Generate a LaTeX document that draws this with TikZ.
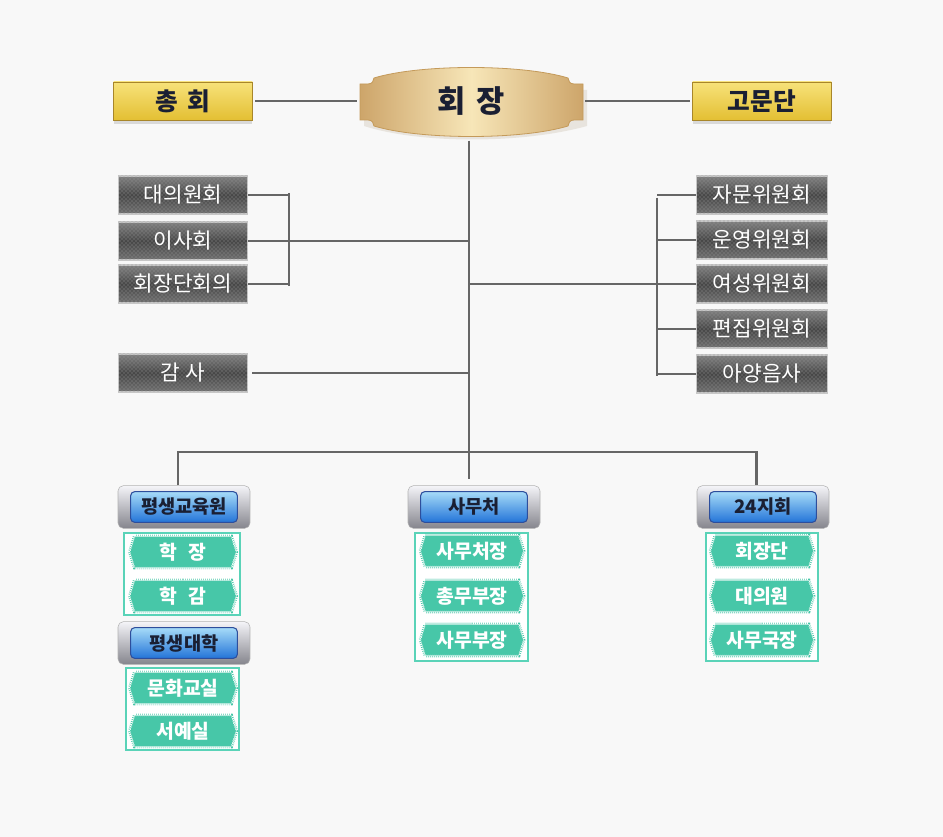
\documentclass[tikz,border=0pt]{standalone}
\usepackage{fontspec}
\setmainfont{Noto Sans CJK KR}
\usetikzlibrary{positioning, shapes.symbols, shadows, patterns}

\definecolor{pagebg}{HTML}{F8F8F8}
\definecolor{linegray}{HTML}{666666}
\definecolor{goldtop}{HTML}{F7E27A}
\definecolor{goldbot}{HTML}{E3BF33}
\definecolor{goldedge}{HTML}{A8862A}
\definecolor{tandark}{HTML}{CDA56A}
\definecolor{tanlight}{HTML}{F7E6B8}
\definecolor{tanedge}{HTML}{C49A5A}
\definecolor{steeltop}{HTML}{808080}
\definecolor{steelmid}{HTML}{474747}
\definecolor{steelbot}{HTML}{707070}
\definecolor{steeldot}{HTML}{9A9A9A}
\definecolor{silvertop}{HTML}{F4F4F8}
\definecolor{silverbot}{HTML}{85858D}
\definecolor{btntop}{HTML}{A6DBF8}
\definecolor{btnbot}{HTML}{2374D8}
\definecolor{btnedge}{HTML}{2D4E9C}
\definecolor{inkdark}{HTML}{1A1F33}
\definecolor{tealfill}{HTML}{47C7A8}
\definecolor{tealframe}{HTML}{5AD3B8}

\tikzset{
  trunk/.style={draw=linegray, line width=2.2pt},
  twig/.style={draw=linegray, line width=1.1pt},
  goldbox/.style={rectangle, minimum width=104pt, minimum height=28.5pt,
    top color=goldtop, bottom color=goldbot, draw=goldedge, line width=0.6pt,
    drop shadow={shadow xshift=0pt, shadow yshift=-3pt, opacity=0.25},
    text=inkdark, font=\fontsize{18.5}{20}\selectfont\bfseries},
  chairtext/.style={rectangle, minimum width=167pt, minimum height=47pt,
    text=inkdark, font=\fontsize{23}{25}\selectfont\bfseries},
  steelbox/.style={rectangle, minimum width=97pt, minimum height=28.5pt,
    top color=steeltop, bottom color=steelbot, middle color=steelmid,
    draw=white!78!black, line width=1.2pt,
    postaction={pattern=crosshatch dots, pattern color=steeldot},
    text=white, font=\fontsize{16}{18}\selectfont},
  headbox/.style={rectangle, rounded corners=4pt, minimum width=99pt, minimum height=32pt,
    top color=silvertop, bottom color=silverbot, draw=white!70!black, line width=0.4pt},
  headbtn/.style={rectangle, rounded corners=3pt, minimum width=80pt, minimum height=23pt,
    inner sep=1pt, top color=btntop, bottom color=btnbot, draw=btnedge, line width=0.8pt,
    text=inkdark, font=\fontsize{14}{16}\selectfont\bfseries},
  groupframe/.style={rectangle, draw=tealframe, line width=1.5pt, fill=white},
  tagitem/.style={signal, signal to=east and west, signal pointer angle=145,
    minimum width=77pt, minimum height=23pt, inner sep=1pt, fill=tealfill,
    preaction={draw=tealfill, line width=3pt},
    draw=white, densely dotted, line width=0.5pt,
    text=white, font=\fontsize{14.5}{16}\selectfont\bfseries},
}

\begin{document}
\begin{tikzpicture}[x=0.75pt, y=-0.75pt]
  \fill[pagebg] (0,0) rectangle (943,837);
  \useasboundingbox (0,0) rectangle (943,837);

  % top row
  \node[goldbox] (zonghoe) at (183,101) {총\hspace{0.35em}회};
  \node[goldbox] (gomun) at (762,101) {고문단};
  \fill[tandark!70!black, opacity=0.15] (364,90) -- (587,90) -- (587,126)
    .. controls (522,144) and (420,144) .. (364,126) -- cycle;
  \draw[tanedge, line width=0.6pt, left color=tandark, right color=tandark, middle color=tanlight]
    (360,84) -- (368,84) .. controls (372,84) and (374,81) .. (374,78)
    .. controls (420,64) and (522,64) .. (568,78)
    .. controls (568,81) and (570,84) .. (574,84) -- (583,84)
    -- (583,120) -- (574,120) .. controls (570,120) and (568,123) .. (568,126)
    .. controls (522,140) and (420,140) .. (374,126)
    .. controls (374,123) and (372,120) .. (368,120) -- (360,120) -- cycle;
  \node[chairtext] (hoejang) at (471,101) {회\hspace{0.35em}장};

  % committees
  \node[steelbox] (daeui) at (183,195) {대의원회};
  \node[steelbox] (isa) at (183,241) {이사회};
  \node[steelbox] (hoejangdan) at (183,284) {회장단회의};
  \node[steelbox] (gamsa) at (183,373) {감 사};
  \node[steelbox, minimum width=98pt] (jamun) at (762,195) {자문위원회};
  \node[steelbox, minimum width=98pt] (unyeong) at (762,240) {운영위원회};
  \node[steelbox, minimum width=98pt] (yeoseong) at (762,284) {여성위원회};
  \node[steelbox, minimum width=98pt] (pyeonjip) at (762,329) {편집위원회};
  \node[steelbox, minimum width=98pt] (ayang) at (762,374) {아양음사};

  % lower units
  \node[headbox] (edu) at (184,507) {};
  \node[headbtn] (edubtn) at (edu) {평생교육원};
  \node[groupframe, minimum width=87pt, minimum height=61.5pt] (eduframe) at (182,574) {};
  \node[tagitem, minimum width=79.5pt] (edu1) at (183,552) {학\hspace{0.6em}장};
  \node[tagitem, minimum width=79.5pt] (edu2) at (183,596) {학\hspace{0.6em}감};

  \node[headbox] (univ) at (184,643) {};
  \node[headbtn] (univbtn) at (univ) {평생대학};
  \node[groupframe, minimum width=85pt, minimum height=61.5pt] (univframe) at (182.5,709) {};
  \node[tagitem, minimum width=79.5pt] (univ1) at (183,688) {문화교실};
  \node[tagitem, minimum width=79.5pt] (univ2) at (183,731) {서예실};

  \node[headbox] (office) at (474,507) {};
  \node[headbtn] (officebtn) at (office) {사무처};
  \node[groupframe, minimum width=85pt, minimum height=96pt] (officeframe) at (471.5,597) {};
  \node[tagitem] (office1) at (472,551) {사무처장};
  \node[tagitem] (office2) at (472,596) {총무부장};
  \node[tagitem] (office3) at (472,640) {사무부장};

  \node[headbox] (branch) at (763,507) {};
  \node[headbtn] (branchbtn) at (branch) {24지회};
  \node[groupframe, minimum width=84pt, minimum height=96pt] (branchframe) at (762,597) {};
  \node[tagitem] (branch1) at (762,551) {회장단};
  \node[tagitem] (branch2) at (762,596) {대의원};
  \node[tagitem] (branch3) at (762,640) {사무국장};

  % connectors
  \coordinate (spine) at (469,0);
  \coordinate (lbrace) at (289,0);
  \coordinate (rbrace) at (657,0);
  \coordinate (busbar) at (469,452);

  \draw[trunk, shorten <=2pt, shorten >=2pt] (zonghoe) -- (hoejang);
  \draw[trunk, shorten <=2pt, shorten >=2pt] (hoejang) -- (gomun);
  \draw[trunk, shorten <=6pt, shorten >=4.5pt] (hoejang.south -| spine) -- (office.north -| spine);

  \foreach \n in {daeui,isa,hoejangdan}
    \draw[twig] (\n.east) -- (\n -| lbrace);
  \draw[trunk, line width=1.8pt] ([yshift=1.5pt]daeui -| lbrace) -- ([yshift=-1.5pt]hoejangdan -| lbrace);
  \draw[trunk] (isa -| lbrace) -- (isa -| spine);
  \draw[trunk, shorten <=3pt] (gamsa.east) -- (gamsa -| spine);

  \foreach \n in {jamun,unyeong,yeoseong,pyeonjip,ayang}
    \draw[twig] (\n -| rbrace) -- (\n.west);
  \draw[trunk, line width=1.8pt] ([yshift=-2pt]jamun -| rbrace) -- ([yshift=-1.5pt]ayang -| rbrace);
  \draw[trunk] (yeoseong -| spine) -- (yeoseong -| rbrace);

  \draw[trunk] ([xshift=-4.5pt]edu.north) |- (busbar) -| ([xshift=-5pt]branch.north);
\end{tikzpicture}
\end{document}
